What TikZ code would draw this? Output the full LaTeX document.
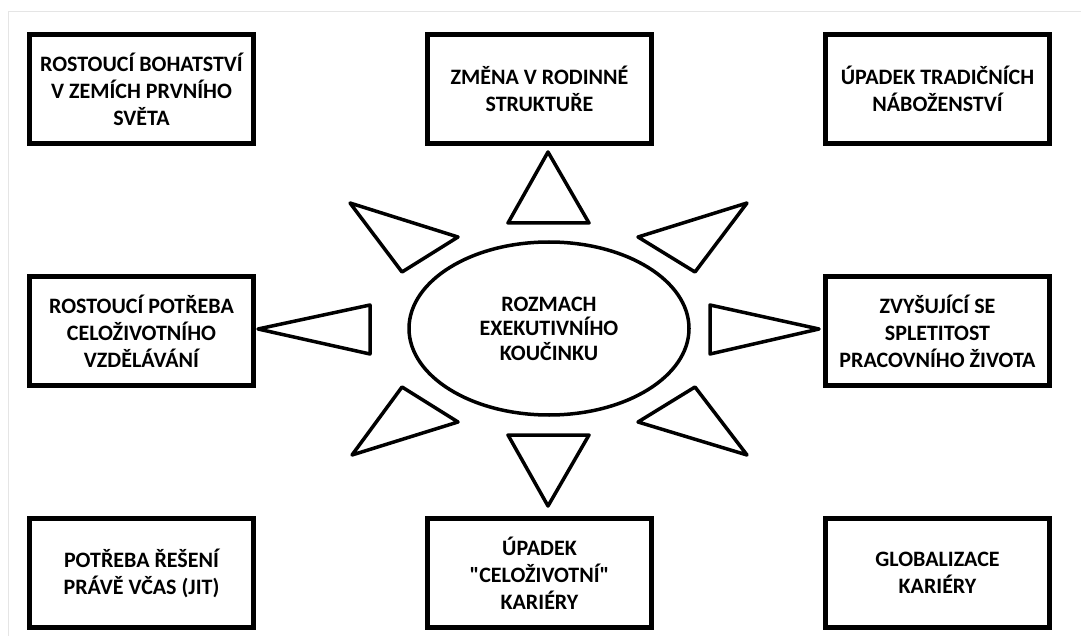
\documentclass[tikz,border=0pt]{standalone}
\usepackage{fontspec}
\setmainfont{Carlito}
\usetikzlibrary{positioning,shapes.geometric}

\tikzset{
  factor/.style={draw, line width=5pt, minimum width=224pt, minimum height=109pt,
    inner sep=2pt, align=center, font=\fontsize{22}{27}\selectfont\bfseries},
  hub/.style={draw, ellipse, line width=3.5pt, minimum width=280pt, minimum height=173pt,
    inner sep=0pt, align=center, font=\fontsize{22}{24.5}\selectfont\bfseries},
  ray/.style={draw, line width=3.5pt, line join=round}
}

\begin{document}
\begin{tikzpicture}[x=1pt, y=-1pt, node distance=242pt and 398pt, on grid]
 \useasboundingbox (0,0) rectangle (1081,636);
 \draw[black!10, line width=1pt] (8,636) |- (1081,12);
 \node[factor] (wealth) at (141.5,89) {ROSTOUCÍ BOHATSTVÍ\\V ZEMÍCH PRVNÍHO\\SVĚTA};
 \node[factor] (family) [right=of wealth] {ZMĚNA V RODINNÉ\\STRUKTUŘE};
 \node[factor] (religion) [right=of family] {ÚPADEK TRADIČNÍCH\\NÁBOŽENSTVÍ};
 \node[factor] (learning) [below=of wealth] {ROSTOUCÍ POTŘEBA\\CELOŽIVOTNÍHO\\VZDĚLÁVÁNÍ};
 \node[factor] (complexity) [below=of religion] {ZVYŠUJÍCÍ SE\\SPLETITOST\\PRACOVNÍHO ŽIVOTA};
 \node[factor] (jit) [below=of learning] {POTŘEBA ŘEŠENÍ\\PRÁVĚ VČAS (JIT)};
 \node[factor] (career) [right=of jit] {ÚPADEK\\\textquotedbl CELOŽIVOTNÍ\textquotedbl\\KARIÉRY};
 \node[factor] (global) [right=of career] {GLOBALIZACE\\KARIÉRY};
 \node[hub] (boom) at (549,328.5) {ROZMACH\\EXEKUTIVNÍHO\\KOUČINKU};
 \foreach \ax/\ay/\bx/\by/\cx/\cy in {548/152/508/223/589/223, 350/203/458/237/402/272,
     747/203/638/237/695/272, 258/329/370/305/370/354, 819/329/710/305/710/354,
     352/455/458/422/402/387, 747/455/638/422/695/387, 548/506/508/435/589/435}
   \draw[ray] (\ax,\ay) -- (\bx,\by) -- (\cx,\cy) -- cycle;
\end{tikzpicture}
\end{document}
